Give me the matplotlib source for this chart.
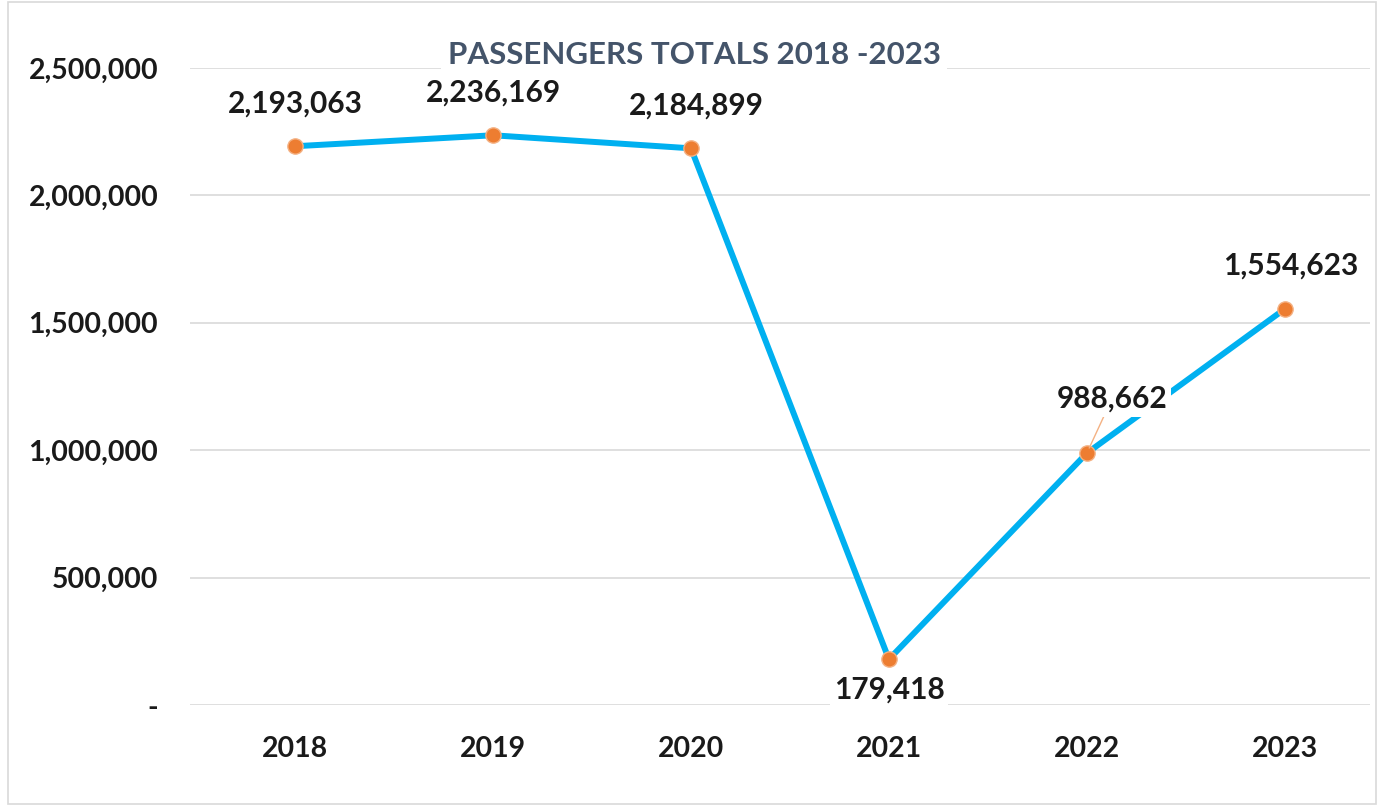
import matplotlib.pyplot as plt
from matplotlib.patches import Rectangle

years = ['2018', '2019', '2020', '2021', '2022', '2023']
passengers = [2193063, 2236169, 2184899, 179418, 988662, 1554623]
yticks = [0, 500000, 1000000, 1500000, 2000000, 2500000]
ytick_labels = ['-', '500,000', '1,000,000', '1,500,000', '2,000,000', '2,500,000']

# label offsets (points) per point, Excel-style placement
label_offsets = [(0, 31), (0, 31), (4, 31), (0, -22), (18, 39), (4, 31)]

plt.rcParams['font.family'] = ['Lato', 'DejaVu Sans']

fig = plt.figure(figsize=(13.88, 8.10), dpi=100)
fig.patches.append(Rectangle((0.006, 0.008), 0.985, 0.99, transform=fig.transFigure,
                             fill=False, edgecolor='#d9d9d9', linewidth=1.2))
ax = fig.add_axes([0.137, 0.1296, 0.85, 0.7864])

x = list(range(len(years)))
ax.plot(x, passengers, color='#00b0f0', linewidth=4.3, zorder=3,
        marker='o', markersize=11, markerfacecolor='#ed7d31',
        markeredgecolor='#f4b183', markeredgewidth=1)

for i, v in enumerate(passengers):
    dx, dy = label_offsets[i]
    kw = {}
    if i == 4:
        kw['arrowprops'] = dict(arrowstyle='-', color='#f4b183', lw=1, shrinkA=0, shrinkB=4)
    ax.annotate(f'{v:,}', (i, v), xytext=(dx, dy), textcoords='offset points',
                ha='center', va='center', fontsize=21.5, fontweight='bold', color='#1a1a1a',
                bbox=dict(boxstyle='square,pad=0.12', fc='white', ec='none'), zorder=4, **kw)

ax.set_xlim(-0.53, 5.43)
ax.set_ylim(0, 2500000)
ax.set_xticks(x)
ax.set_xticklabels(years)
ax.set_yticks(yticks)
ax.set_yticklabels(ytick_labels)
ax.tick_params(axis='both', length=0, labelsize=20.5, colors='#1a1a1a')
ax.tick_params(axis='x', pad=22)
ax.tick_params(axis='y', pad=23)
for lab in ax.get_xticklabels() + ax.get_yticklabels():
    lab.set_fontweight('bold')

ax.grid(True, axis='y', color='#d9d9d9', linewidth=1.2)
ax.set_axisbelow(True)
for s in ax.spines.values():
    s.set_visible(False)

fig.text(0.5, 0.932, 'PASSENGERS TOTALS 2018 -2023', ha='center', va='center',
         fontsize=22.5, fontweight='bold', color='#44546a',
         bbox=dict(boxstyle='square,pad=0.2', fc='white', ec='none'))

fig.savefig('out.png', dpi=100)
